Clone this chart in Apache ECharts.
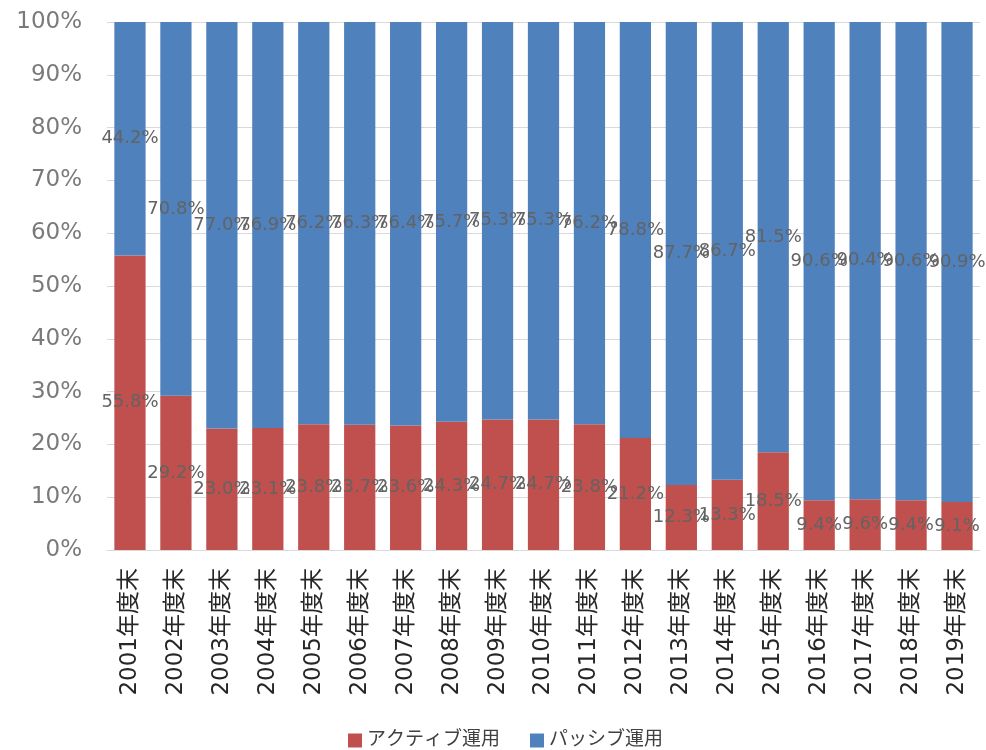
<!DOCTYPE html>
<html>
<head>
<meta charset="utf-8">
<script src="https://cdn.jsdelivr.net/npm/echarts@6/dist/echarts.min.js"></script>
<style>
  html, body { margin: 0; padding: 0; background: #fff; }
  #chart { width: 986px; height: 750px; }
</style>
</head>
<body>
<div id="chart"></div>
<script>
// Fiscal year-end categories
const categories = [
  '2001年度末', '2002年度末', '2003年度末', '2004年度末', '2005年度末',
  '2006年度末', '2007年度末', '2008年度末', '2009年度末', '2010年度末',
  '2011年度末', '2012年度末', '2013年度末', '2014年度末', '2015年度末',
  '2016年度末', '2017年度末', '2018年度末', '2019年度末'
];

// Share of active management (%)
const activeShare = [
  55.8, 29.2, 23.0, 23.1, 23.8, 23.7, 23.6, 24.3, 24.7, 24.7,
  23.8, 21.2, 12.3, 13.3, 18.5, 9.4, 9.6, 9.4, 9.1
];

// Share of passive management (%)
const passiveShare = [
  44.2, 70.8, 77.0, 76.9, 76.2, 76.3, 76.4, 75.7, 75.3, 75.3,
  76.2, 78.8, 87.7, 86.7, 81.5, 90.6, 90.4, 90.6, 90.9
];

const seriesNames = ['アクティブ運用', 'パッシブ運用'];

const FONT = '"DejaVu Sans", "Noto Sans CJK JP", sans-serif';

const chart = echarts.init(document.getElementById('chart'), null, { renderer: 'canvas' });

const labelStyle = {
  show: true,
  position: 'inside',
  color: '#636363',
  fontFamily: FONT,
  fontSize: 18,
  formatter: p => p.value.toFixed(1) + '%'
};

chart.setOption({
  animation: false,
  backgroundColor: '#ffffff',
  grid: { left: 107, right: 6, top: 22, bottom: 200, containLabel: false },
  legend: {
    data: seriesNames,
    left: 348,
    top: 731,
    padding: 0,
    itemWidth: 14,
    itemHeight: 14,
    itemGap: 30,
    icon: 'rect',
    textStyle: { fontFamily: FONT, fontSize: 19, lineHeight: 18, color: '#404040' }
  },
  xAxis: {
    type: 'category',
    data: categories,
    axisLine: { show: true, lineStyle: { color: '#d9d9d9', width: 1 } },
    axisTick: { show: false },
    axisLabel: {
      rotate: 90,
      margin: 18,
      interval: 0,
      fontFamily: FONT,
      fontSize: 23,
      color: '#262626'
    }
  },
  yAxis: {
    type: 'value',
    min: 0,
    max: 100,
    interval: 10,
    axisLine: { show: false },
    axisTick: { show: false },
    splitLine: { lineStyle: { color: '#d9d9d9', width: 1 } },
    axisLabel: {
      margin: 25,
      fontFamily: FONT,
      fontSize: 23,
      color: '#7a7a7a',
      formatter: v => v + '%'
    }
  },
  series: [
    {
      name: seriesNames[0],
      type: 'bar',
      stack: 'share',
      barWidth: '68%',
      data: activeShare,
      itemStyle: { color: '#C0504D' },
      label: labelStyle
    },
    {
      name: seriesNames[1],
      type: 'bar',
      stack: 'share',
      barWidth: '68%',
      data: passiveShare,
      itemStyle: { color: '#4F81BD' },
      label: labelStyle
    }
  ]
});
</script>
</body>
</html>
